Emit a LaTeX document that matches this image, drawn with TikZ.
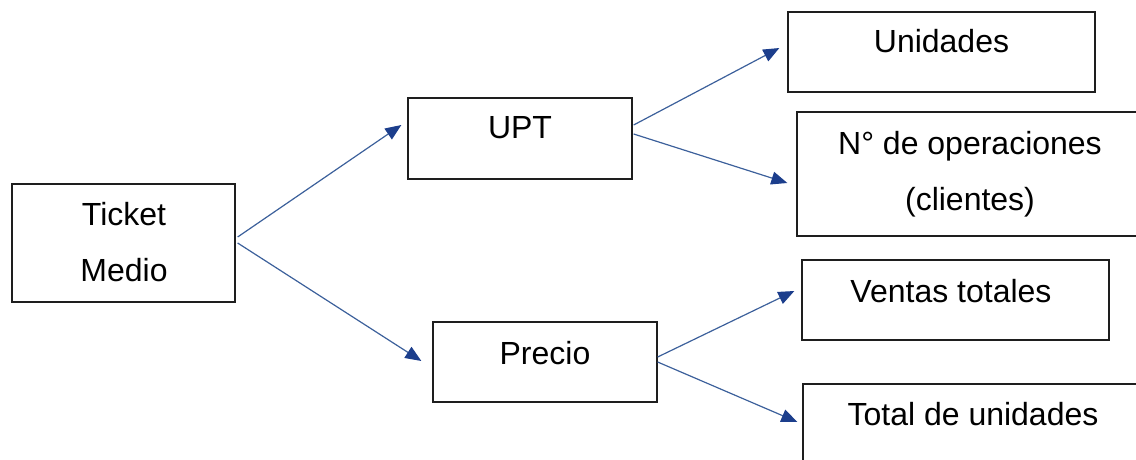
\documentclass[tikz,border=0pt]{standalone}
\usepackage{fontspec}
\setmainfont{Liberation Sans}
\usetikzlibrary{arrows.meta}
\definecolor{arrblue}{RGB}{60,96,155}
\definecolor{tipblue}{RGB}{28,62,140}
\definecolor{boxline}{RGB}{30,30,30}
\tikzset{
  box/.style={draw=boxline, line width=1.3pt, fill=white, inner sep=0pt, minimum width=#1},
  lbl/.style={inner sep=0pt, anchor=base, font=\fontsize{32}{38}\selectfont, text=black},
  arr/.style={draw=arrblue, line width=1.2pt, -{Triangle[length=16pt,width=13pt,fill=tipblue,color=tipblue]}},
}
\begin{document}
\begin{tikzpicture}[x=1pt,y=-1pt]
\useasboundingbox (0,0) rectangle (1136,460);
\clip (0,0) rectangle (1136,460);
% boxes
\node[box=223pt, minimum height=118pt] (tm) at (123.5,243) {};
\node[box=224pt, minimum height=81pt] (upt) at (520,138.5) {};
\node[box=224pt, minimum height=80pt] (pre) at (545,362) {};
\node[box=307pt, minimum height=80pt] (uni) at (941.5,52) {};
\node[box=346pt, minimum height=124pt] (nop) at (970,174) {};
\node[box=307pt, minimum height=80pt] (ven) at (955.5,300) {};
\node[box=340pt, minimum height=86pt] (tot) at (973,427) {};
% labels
\node[lbl] (tm1) at (124,225) {Ticket};
\node[lbl] (tm2) at (124,281) {Medio};
\node[lbl] (uptl) at (520,138) {UPT};
\node[lbl] (prel) at (545,364) {Precio};
\node[lbl] (unil) at (941.5,53) {Unidades};
\node[lbl] (nop1) at (970,154) {N° de operaciones};
\node[lbl] (nop2) at (970,210) {(clientes)};
\node[lbl] (venl) at (951,302) {Ventas totales};
\node[lbl] (totl) at (973,425) {Total de unidades};
% connectors
\draw[arr] ([xshift=2pt,yshift=6pt]tm.east) -- ([xshift=-6pt,yshift=13.5pt]upt.west);
\draw[arr] ([xshift=2pt]tm.east) -- ([xshift=-11pt,yshift=1pt]pre.west);
\draw[arr] ([xshift=1pt,yshift=13.5pt]upt.east) -- ([xshift=-8pt,yshift=4pt]uni.west);
\draw[arr] ([xshift=1pt,yshift=4.5pt]upt.east) -- ([xshift=-9pt,yshift=-9pt]nop.west);
\draw[arr] ([yshift=5pt]pre.east) -- ([xshift=-7pt,yshift=9pt]ven.west);
\draw[arr] (pre.east) -- ([xshift=-5pt,yshift=5pt]tot.west);
\end{tikzpicture}
\end{document}
